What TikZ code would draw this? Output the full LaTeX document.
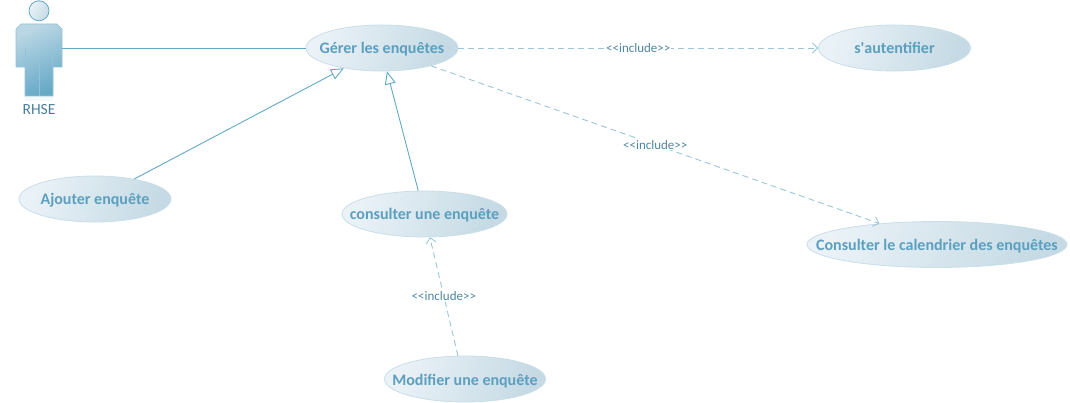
\documentclass[tikz,border=0pt]{standalone}
\usepackage{fontspec}
\setmainfont{Carlito}
\usetikzlibrary{shapes.geometric,arrows.meta}
\definecolor{uline}{HTML}{62A9C6}
\definecolor{udash}{HTML}{9CC6D8}
\definecolor{utext}{HTML}{5C9FBF}
\definecolor{uborder}{HTML}{C9DEE8}
\definecolor{ulight}{HTML}{EAF2F7}
\definecolor{udark}{HTML}{C5DAE4}
\definecolor{ubodyl}{HTML}{BBD7E4}
\definecolor{ubodyd}{HTML}{66A9C7}
\newcommand{\uc}[1]{\raisebox{-6pt}[0pt][0pt]{\makebox[0pt]{#1}}}
\newcommand{\incltext}{<{}<include>{}>}
\tikzset{
  usecase/.style={ellipse,draw=uborder,line width=0.8pt,inner sep=0pt,
    minimum width=#1,minimum height=46,
    shading=axis,left color=ulight,right color=udark,shading angle=70,
    text=utext,font=\fontsize{16}{18}\selectfont\bfseries},
  assoc/.style={draw=uline,line width=0.9pt},
  gener/.style={draw=uline,line width=0.9pt,-{Triangle[open,length=13,width=11,fill=white]}},
  incl/.style={draw=udash,line width=0.9pt,dash pattern=on 6pt off 4pt,-{Straight Barb[length=5,width=10]}},
  incllabel/.style={fill=white,inner sep=1pt,text=utext!85!black,font=\fontsize{13}{15}\selectfont},
  actorpart/.style={draw=uline!70,line width=0.7pt}
}
\begin{document}
\begin{tikzpicture}[x=1pt,y=-1pt]
\useasboundingbox (0,0) rectangle (1070,403);
% actor
\fill[uline!7] (25,96) rectangle (53,101);
\draw[actorpart,shading=axis,left color=ubodyl,right color=ubodyd,shading angle=25]
  (21,24) -- (57,24) -- (62,29) -- (62,67) -- (53,67) -- (53,96) -- (25,96) -- (25,67) -- (16,67) -- (16,29) -- cycle;
\draw[draw=uline,line width=0.8pt,shading=axis,left color=ulight,right color=udark,shading angle=60] (39,10.8) circle (10);
\draw[uline!70,line width=0.5pt] (25,48) -- (25,67) (52.5,48) -- (52.5,67) (39.5,58) -- (39.5,96);
\coordinate (hand) at (62,48);
\node[text=utext!80!black,font=\fontsize{15.5}{17}\selectfont,inner sep=0pt] (rhse) at (39,110) {RHSE};
% use cases
\node[usecase=152] (gerer) at (382,48) {\uc{Gérer les enquêtes}};
\node[usecase=152] (auth) at (894.5,48) {\uc{s\textquotesingle autentifier}};
\node[usecase=152] (ajouter) at (95,199) {\uc{Ajouter enquête}};
\node[usecase=165] (consulter) at (424.5,214) {\uc{consulter une enquête}};
\node[usecase=161] (modifier) at (465,379) {\uc{Modifier une enquête}};
\node[usecase=260] (cal) at (937,244.5) {\uc{Consulter le calendrier des enquêtes}};
% connectors
\draw[assoc] (hand) -- (gerer.west);
\draw[gener] (ajouter.27) -- (gerer.208);
\draw[gener] (consulter.105) -- (gerer.-78);
\draw[incl] (gerer.east) -- node[incllabel,pos=0.5] {\incltext} (auth.west);
\draw[incl] (gerer.-20.6) -- node[incllabel,pos=0.5] {\incltext} (cal.160.7);
\draw[incl] (modifier.107) -- node[incllabel,pos=0.5] {\incltext} (consulter.-77);
\end{tikzpicture}
\end{document}
